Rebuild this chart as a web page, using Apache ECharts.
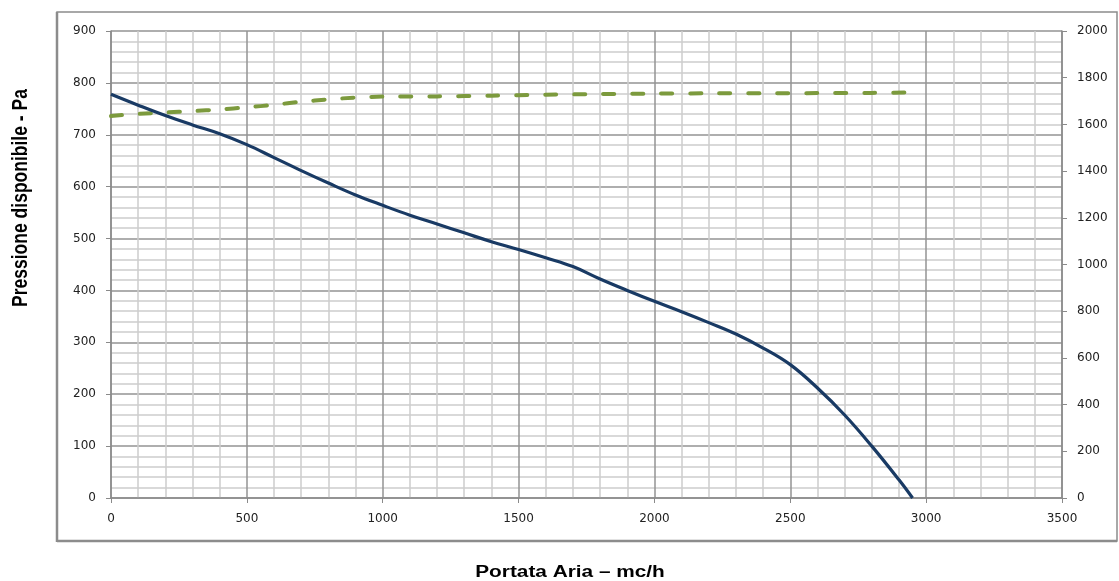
<!DOCTYPE html>
<html>
<head>
<meta charset="utf-8">
<script src="https://cdn.jsdelivr.net/npm/echarts@6/dist/echarts.min.js"></script>
<style>html,body{margin:0;padding:0;background:#fff;}#c{width:1119px;height:581px;}</style>
</head>
<body>
<div id="c"></div>
<script>
// Blue curve: available pressure (Pa) vs air flow (mc/h) - left axis
const flowBlue = [0,100,200,300,400,500,600,700,800,900,1000,1100,1200,1300,1400,1500,1600,1700,1800,1900,2000,2100,2200,2300,2400,2500,2600,2700,2800,2900,2950];
const pressure = [778,757,737,719,702,681,656,631,607,584,564,545,528,511,494,479,463,446,422,400,379,359,338,316,289,257,212,160,100,35,0];
// Green dashed curve - right axis
const flowGreen = [0,100,200,300,400,500,600,700,800,900,1000,1200,1400,1600,1800,2000,2200,2400,2600,2800,2950];
const greenVals = [1636,1645,1651,1657,1664,1673,1684,1697,1707,1715,1719,1720,1723,1727,1730,1732,1733,1733,1734,1735,1737];
// Axis settings
const xTicks = {min:0, max:3500, interval:500};
const yLeft = {min:0, max:900, interval:100};
const yRight = {min:0, max:2000, interval:200};
const xTitle = 'Portata Aria – mc/h';
const yTitle = 'Pressione disponibile - Pa';

const chart = echarts.init(document.getElementById('c'), null, {renderer:'canvas'});
const fmt = v => String(v);
const lbl = {fontFamily:'DejaVu Sans', fontSize:12, color:'#222', formatter:fmt};
const axisLineGray = {show:true, lineStyle:{color:'#8a8a8a', width:1.5}};
chart.setOption({
  animation:false,
  backgroundColor:'#fff',
  grid:{left:111, top:31, right:57, bottom:83, containLabel:false},
  xAxis:{
    type:'value', min:xTicks.min, max:xTicks.max, interval:xTicks.interval,
    axisLine:{show:true, onZero:false, lineStyle:{color:'#8a8a8a', width:1.5}},
    axisTick:{show:true, length:5, lineStyle:{color:'#8a8a8a'}},
    axisLabel:Object.assign({margin:15}, lbl),
    splitLine:{show:true, lineStyle:{color:'#939393', width:1.5}},
    minorTick:{show:false, splitNumber:5},
    minorSplitLine:{show:true, lineStyle:{color:'#cdcdcd', width:1.5}}
  },
  yAxis:[{
    type:'value', min:yLeft.min, max:yLeft.max, interval:yLeft.interval,
    axisLine:axisLineGray,
    axisTick:{show:true, length:5, lineStyle:{color:'#8a8a8a'}},
    axisLabel:Object.assign({margin:15}, lbl),
    splitLine:{show:true, lineStyle:{color:'#939393', width:1.5}},
    minorTick:{show:false, splitNumber:5},
    minorSplitLine:{show:true, lineStyle:{color:'#cdcdcd', width:1.5}}
  },{
    type:'value', position:'right', min:yRight.min, max:yRight.max, interval:yRight.interval,
    axisLine:axisLineGray,
    axisTick:{show:true, length:5, lineStyle:{color:'#8a8a8a'}},
    axisLabel:Object.assign({margin:15}, lbl),
    splitLine:{show:false}
  }],
  series:[{
    type:'line', yAxisIndex:0, showSymbol:false, smooth:0.4,
    data:flowBlue.map((x,i)=>[x, pressure[i]]),
    lineStyle:{color:'#193a64', width:3.2}, z:3
  },{
    type:'line', yAxisIndex:1, showSymbol:false, smooth:0.3,
    data:flowGreen.map((x,i)=>[x, greenVals[i]]),
    lineStyle:{color:'#7c9a3d', width:4, type:[11,18], cap:'round'}, z:2
  }],
  graphic:[
    {type:'rect', shape:{x:57, y:12, width:1060, height:529}, style:{fill:'none', stroke:'#8c8c8c', lineWidth:1.5}, silent:true},
    {type:'line', shape:{x1:57, y1:12, x2:57, y2:542}, style:{stroke:'#8c8c8c', lineWidth:2.5}, silent:true},
    {type:'line', shape:{x1:57, y1:541, x2:1117, y2:541}, style:{stroke:'#8c8c8c', lineWidth:2.5}, silent:true},
    {type:'text', x:570, y:573, scaleX:1.3, style:{text:xTitle, font:'bold 16px "Liberation Sans"', fill:'#000', align:'center', verticalAlign:'middle'}},
    {type:'text', x:21, y:198, rotation:Math.PI/2, scaleY:1.25, style:{text:yTitle, font:'bold 17.5px "Liberation Sans"', fill:'#000', align:'center', verticalAlign:'middle'}}
  ]
});
</script>
</body>
</html>
